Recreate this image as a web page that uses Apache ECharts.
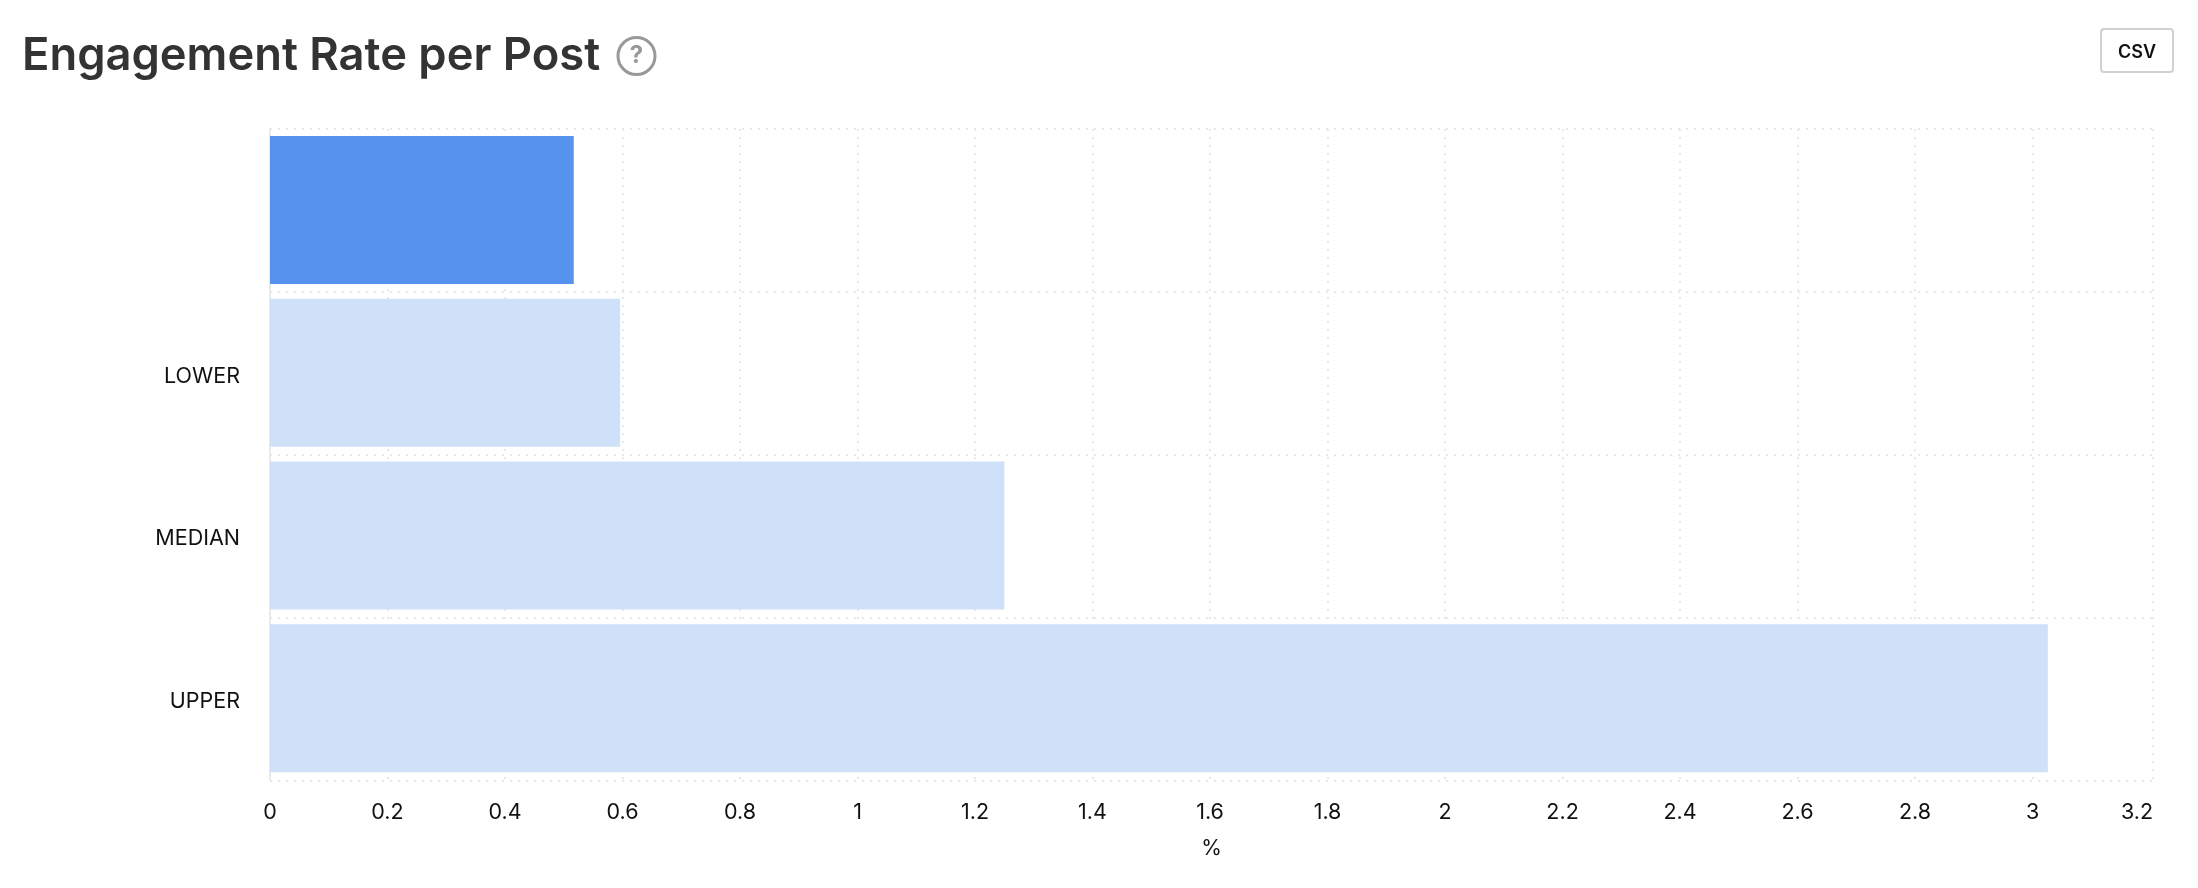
<!DOCTYPE html>
<html>
<head>
<meta charset="utf-8">
<style>html,body{margin:0;padding:0;background:#fff}#c{width:2198px;height:888px}</style>
<script src="https://cdn.jsdelivr.net/npm/echarts@6/dist/echarts.min.js"></script>
</head>
<body>
<div id="c"></div>
<script>
const categories = ['', 'LOWER', 'MEDIAN', 'UPPER'];
const values = [0.517, 0.596, 1.25, 3.026];
const tickValues = [0, 0.2, 0.4, 0.6, 0.8, 1, 1.2, 1.4, 1.6, 1.8, 2, 2.2, 2.4, 2.6, 2.8, 3, 3.205];
const tickLabels = ['0','0.2','0.4','0.6','0.8','1','1.2','1.4','1.6','1.8','2','2.2','2.4','2.6','2.8','3','3.2'];
const axisMax = 3.205;
const unitName = '%';
const titleText = 'Engagement Rate per Post';
const FONT = 'Inter';
const DOTS = {color: '#e8e8e8', width: 2, type: [2, 6]};
const chart = echarts.init(document.getElementById('c'), null, {renderer: 'canvas'});
chart.setOption({
  animation: false,
  backgroundColor: '#fff',
  title: {text: titleText, left: 17, top: 29, textStyle: {fontFamily: FONT, fontSize: 45.3, fontWeight: 600, color: '#333'}},
  grid: [
    {left: 270, right: 45, top: 128.7, height: 650.8},
    {left: 270, right: 45, top: 129, height: 652}
  ],
  xAxis: [
    {type: 'value', gridIndex: 0, min: 0, max: axisMax, show: false, splitLine: {show: false}},
    {
      type: 'value', gridIndex: 1, min: 0, max: axisMax,
      name: unitName, nameLocation: 'middle', nameGap: 57,
      nameTextStyle: {fontFamily: FONT, fontSize: 21, color: '#111'},
      axisLine: {show: false},
      axisTick: {show: false, customValues: tickValues},
      axisLabel: {
        customValues: tickValues, alignMaxLabel: 'right', hideOverlap: false, margin: 21,
        fontFamily: FONT, fontSize: 21.5, color: '#111',
        formatter: v => tickLabels[tickValues.indexOf(v)]
      },
      splitLine: {show: true, lineStyle: DOTS}
    }
  ],
  yAxis: [
    {
      type: 'category', gridIndex: 0, data: categories, inverse: true, z: 3,
      axisLine: {show: true, lineStyle: {color: '#e9e9e9', width: 2}},
      axisTick: {show: false},
      axisLabel: {
        margin: 30,
        formatter: v => v ? '{a|' + v + '}' : '',
        rich: {a: {fontFamily: FONT, fontSize: 21.5, color: '#111', padding: [7, 0, 0, 0]}}
      },
      splitLine: {show: false}
    },
    {
      type: 'category', gridIndex: 1, data: categories, inverse: true,
      axisLine: {show: false}, axisTick: {show: false}, axisLabel: {show: false},
      splitLine: {show: true, lineStyle: DOTS}
    }
  ],
  series: [{
    type: 'bar', xAxisIndex: 0, yAxisIndex: 0, z: 4,
    data: values.map((v, i) => ({value: v, itemStyle: {color: i === 0 ? '#5593ef' : '#cfe0f9'}})),
    barWidth: 148
  }],
  graphic: [
    {type: 'circle', shape: {cx: 636.5, cy: 56, r: 18.5}, style: {fill: '#fff', stroke: '#999', lineWidth: 3}},
    {type: 'text', style: {x: 636.5, y: 56, text: '?', align: 'center', verticalAlign: 'middle', fontFamily: FONT, fontSize: 24, fontWeight: 700, fill: '#999'}},
    {type: 'rect', shape: {x: 2101, y: 29, width: 72, height: 43, r: 3}, style: {fill: '#fff', stroke: '#d0d0d0', lineWidth: 2}},
    {type: 'text', style: {x: 2137, y: 52.5, text: 'CSV', align: 'center', verticalAlign: 'middle', fontFamily: FONT, fontSize: 18, fontWeight: 600, fill: '#111'}}
  ]
});
</script>
</body>
</html>
